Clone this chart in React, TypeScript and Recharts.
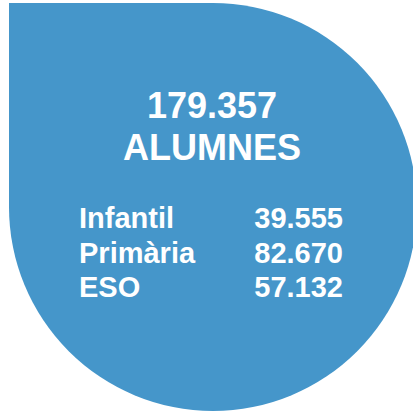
import React from 'react';
import { BarChart, Bar, XAxis, YAxis } from 'recharts';

const totalLabel = '179.357';
const unitLabel = 'ALUMNES';
const total = 179357;
const categories = ['Infantil', 'Primària', 'ESO'];
const values = [39555, 82670, 57132];

const fmt = (v: number) => v.toLocaleString('de-DE');

const data = [{ name: 'total', value: total }];

const FONT = '"Liberation Sans", Arial, sans-serif';

const Drop = (props: any) => {
  const { x, y, height } = props;
  const r = height / 2;
  const cx = x + r;
  const cy = y + r;
  const d = `M ${x},${y} L ${cx},${y} A ${r} ${r} 0 0 1 ${cx + r},${cy} A ${r} ${r} 0 0 1 ${cx},${cy + r} A ${r} ${r} 0 0 1 ${x},${cy} Z`;
  const rowY = [228, 262.5, 297];
  return (
    <g>
      <path d={d} fill="#4596CA" />
      <text x={212} y={118} textAnchor="middle" fill="#fff" fontFamily={FONT} fontWeight="bold" fontSize={36}>
        {totalLabel}
      </text>
      <text x={212} y={160} textAnchor="middle" fill="#fff" fontFamily={FONT} fontWeight="bold" fontSize={36}>
        {unitLabel}
      </text>
      {categories.map((c, i) => (
        <g key={c}>
          <text x={79} y={rowY[i]} fill="#fff" fontFamily={FONT} fontWeight="bold" fontSize={29}>
            {c}
          </text>
          <text x={343} y={rowY[i]} textAnchor="end" fill="#fff" fontFamily={FONT} fontWeight="bold" fontSize={29}>
            {fmt(values[i])}
          </text>
        </g>
      ))}
    </g>
  );
};

export default function App() {
  return (
    <div style={{ position: 'absolute', left: 0, top: 0, width: 413, height: 412, background: '#fff' }}>
      <BarChart
        width={413}
        height={412}
        data={data}
        margin={{ top: 3, right: 0, bottom: 1, left: 9 }}
        barCategoryGap={0}
      >
        <XAxis dataKey="name" hide />
        <YAxis hide domain={[0, total]} />
        <Bar dataKey="value" isAnimationActive={false} shape={Drop} />
      </BarChart>
    </div>
  );
}
